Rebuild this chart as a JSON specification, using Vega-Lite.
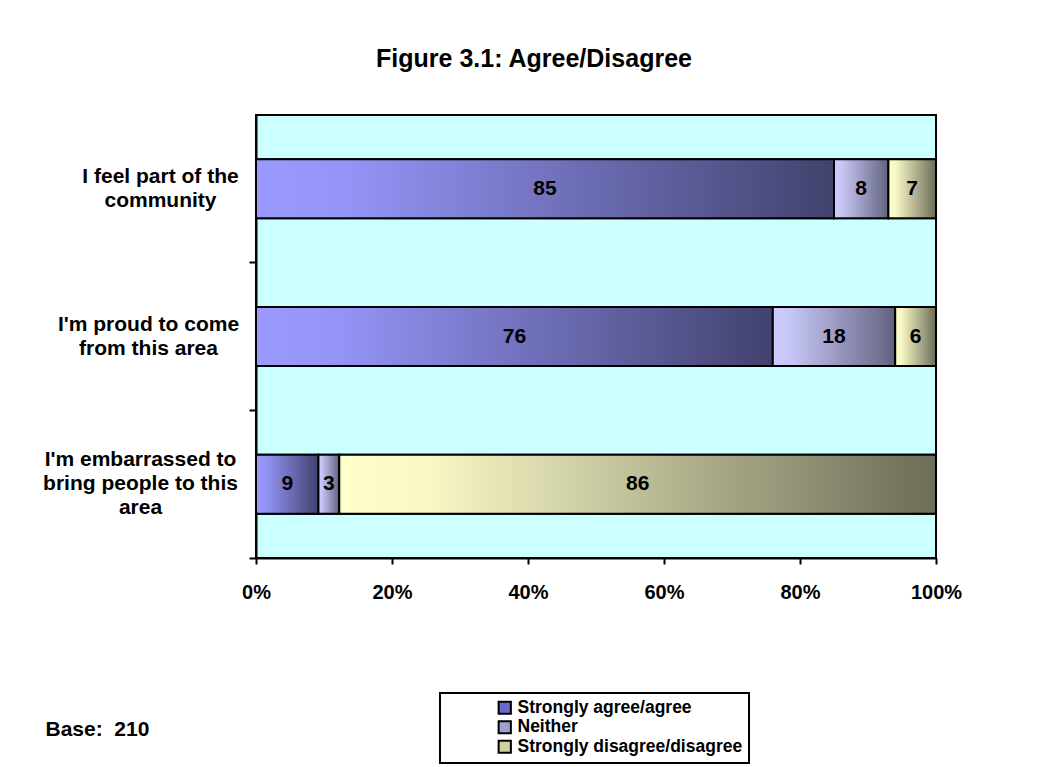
{
  "$schema": "https://vega.github.io/schema/vega-lite/v6.json",
  "width": 680,
  "height": 443,
  "autosize": {"type": "none"},
  "padding": {"left": 256, "top": 115, "right": 110, "bottom": 209},
  "background": "white",
  "title": {
    "text": "Figure 3.1: Agree/Disagree",
    "font": "Liberation Sans",
    "fontSize": 25,
    "fontWeight": "bold",
    "color": "black",
    "anchor": "middle",
    "dx": -62,
    "offset": 43
  },
  "data": {
    "values": [
      {"statement": "I feel part of the community", "response": "Strongly agree/agree", "ord": 1, "value": 85},
      {"statement": "I feel part of the community", "response": "Neither", "ord": 2, "value": 8},
      {"statement": "I feel part of the community", "response": "Strongly disagree/disagree", "ord": 3, "value": 7},
      {"statement": "I'm proud to come from this area", "response": "Strongly agree/agree", "ord": 1, "value": 76},
      {"statement": "I'm proud to come from this area", "response": "Neither", "ord": 2, "value": 18},
      {"statement": "I'm proud to come from this area", "response": "Strongly disagree/disagree", "ord": 3, "value": 6},
      {"statement": "I'm embarrassed to bring people to this area", "response": "Strongly agree/agree", "ord": 1, "value": 9},
      {"statement": "I'm embarrassed to bring people to this area", "response": "Neither", "ord": 2, "value": 3},
      {"statement": "I'm embarrassed to bring people to this area", "response": "Strongly disagree/disagree", "ord": 3, "value": 86}
    ]
  },
  "encoding": {
    "y": {
      "field": "statement",
      "type": "nominal",
      "sort": null,
      "scale": {"paddingInner": 0.6, "paddingOuter": 0.3},
      "axis": {
        "title": null,
        "domainColor": "black",
        "domainWidth": 2,
        "tickColor": "black",
        "tickWidth": 2,
        "tickSize": 7,
        "bandPosition": 1.75,
        "labelOffset": {
          "condition": {"test": "datum.value === 'I\\'m embarrassed to bring people to this area'", "value": -24},
          "value": -12
        },
        "labelFont": "Liberation Sans",
        "labelFontSize": 21,
        "labelFontWeight": "bold",
        "labelColor": "black",
        "labelAlign": "center",
        "labelBaseline": "middle",
        "labelPadding": {
          "condition": [
            {"test": "datum.value === 'I feel part of the community'", "value": 89},
            {"test": "datum.value === 'I\\'m proud to come from this area'", "value": 101}
          ],
          "value": 109
        },
        "labelLimit": 300,
        "labelLineHeight": 24,
        "labelExpr": "datum.value == 'I feel part of the community' ? ['I feel part of the', 'community'] : datum.value == 'I\\'m proud to come from this area' ? ['I\\'m proud to come', 'from this area'] : ['I\\'m embarrassed to', 'bring people to this', 'area']"
      }
    },
    "x": {
      "field": "value",
      "type": "quantitative",
      "stack": "normalize",
      "scale": {"domain": [0, 1], "nice": false},
      "axis": {
        "format": ".0%",
        "values": [0, 0.2, 0.4, 0.6, 0.8, 1],
        "grid": false,
        "domainColor": "black",
        "domainWidth": 2,
        "tickColor": "black",
        "tickWidth": 2,
        "tickSize": 6,
        "labelFont": "Liberation Sans",
        "labelFontSize": 20,
        "labelFontWeight": "bold",
        "labelColor": "black",
        "labelPadding": 18,
        "labelFlush": false,
        "title": "Base:\u00a0\u00a0210",
        "titleFont": "Liberation Sans",
        "titleFontSize": 21,
        "titleFontWeight": "bold",
        "titleColor": "black",
        "titleAlign": "left",
        "titleBaseline": "middle",
        "titleX": -211,
        "titleY": 171
      }
    },
    "order": {"field": "ord", "type": "quantitative"}
  },
  "layer": [
    {
      "mark": {"type": "bar", "stroke": "black", "strokeWidth": 2},
      "encoding": {
        "color": {
          "field": "response",
          "type": "nominal",
          "sort": ["Strongly agree/agree", "Neither", "Strongly disagree/disagree"],
          "scale": {
            "domain": ["Strongly agree/agree", "Neither", "Strongly disagree/disagree"],
            "range": ["#6868CE", "#A0A0D0", "#D0D0A0"]
          },
          "legend": {
            "orient": "none",
            "legendX": 184,
            "legendY": 578,
            "title": "\u00a0",
            "titleFontSize": 10,
            "titleOrient": "left",
            "titlePadding": 50,
            "strokeColor": "black",
            "padding": 6,
            "symbolType": "square",
            "symbolSize": 150,
            "symbolStrokeColor": "black",
            "symbolStrokeWidth": 2,
            "symbolOpacity": 1,
            "labelFont": "Liberation Sans",
            "labelFontSize": 17.5,
            "labelFontWeight": "bold",
            "labelColor": "black",
            "labelOffset": 4,
            "rowPadding": -1.5,
            "labelLimit": 400
          }
        }
      }
    },
    {
      "mark": {"type": "bar", "stroke": "black", "strokeWidth": 2},
      "encoding": {
        "color": {
          "condition": [
            {
              "test": "datum.response === 'Strongly agree/agree'",
              "value": {"gradient": "linear", "x1": 0, "x2": 1, "y1": 0, "y2": 0, "stops": [{"offset": 0, "color": "#9999FF"}, {"offset": 0.15, "color": "#9595F8"}, {"offset": 1, "color": "#42426E"}]}
            },
            {
              "test": "datum.response === 'Neither'",
              "value": {"gradient": "linear", "x1": 0, "x2": 1, "y1": 0, "y2": 0, "stops": [{"offset": 0, "color": "#CCCCFF"}, {"offset": 0.15, "color": "#C6C6F6"}, {"offset": 1, "color": "#62627F"}]}
            }
          ],
          "value": {"gradient": "linear", "x1": 0, "x2": 1, "y1": 0, "y2": 0, "stops": [{"offset": 0, "color": "#FFFFCC"}, {"offset": 0.15, "color": "#F8F8C6"}, {"offset": 1, "color": "#6C6C58"}]}
        }
      }
    },
    {
      "mark": {"type": "text", "font": "Liberation Sans", "fontSize": 21, "fontWeight": "bold", "color": "black", "baseline": "middle", "align": "center"},
      "encoding": {
        "x": {"field": "value", "type": "quantitative", "stack": "normalize", "bandPosition": 0.5},
        "text": {"field": "value", "type": "quantitative"}
      }
    }
  ],
  "config": {
    "view": {"fill": "#CCFFFF", "stroke": "black", "strokeWidth": 2},
    "legend": {"strokeWidth": 2}
  }
}
